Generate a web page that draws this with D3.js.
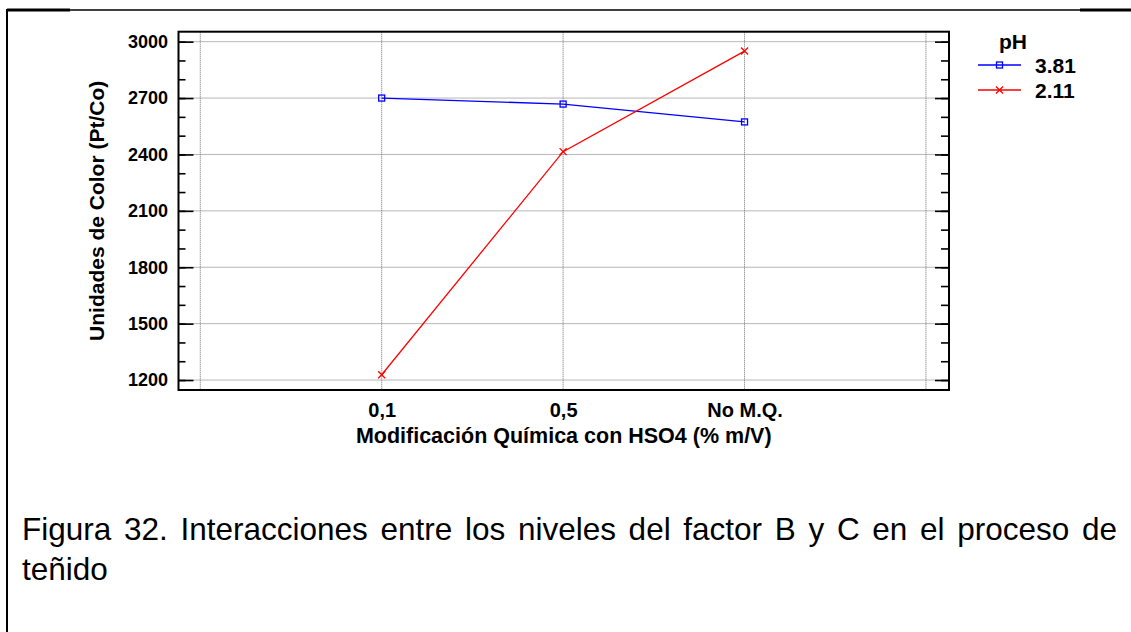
<!DOCTYPE html>
<html>
<head>
<meta charset="utf-8">
<script src="https://cdn.jsdelivr.net/npm/d3@7"></script>
<style>
  html, body { margin: 0; padding: 0; background: #fff; }
  svg { display: block; font-family: "Liberation Sans", Arial, sans-serif; }
</style>
</head>
<body>
<svg id="fig" width="1131" height="632"></svg>
<script>
// Factor levels (x) and mean colour units per pH level
const categories = ["0,1", "0,5", "No M.Q."];
const seriesNames = ["3.81", "2.11"];
const ph381 = [2700, 2668, 2573];
const ph211 = [1228, 2415, 2950];
const yTicks = [1200, 1500, 1800, 2100, 2400, 2700, 3000];
const captionLine1 = "Figura 32. Interacciones entre los niveles del factor B y C en el proceso de";
const captionLine2 = "teñido";

const svg = d3.select("#fig");

// Page frame lines
svg.append("line").attr("x1", 7).attr("x2", 1131).attr("y1", 10).attr("y2", 10)
  .attr("stroke", "#000").attr("stroke-width", 1.5);
svg.append("line").attr("x1", 7).attr("x2", 70).attr("y1", 10).attr("y2", 10)
  .attr("stroke", "#000").attr("stroke-width", 3);
svg.append("line").attr("x1", 1080).attr("x2", 1131).attr("y1", 10).attr("y2", 10)
  .attr("stroke", "#000").attr("stroke-width", 3);
svg.append("line").attr("x1", 7).attr("x2", 7).attr("y1", 9).attr("y2", 632)
  .attr("stroke", "#000").attr("stroke-width", 2);

// Plot region
const L = 178.5, R = 949, T = 31.7, B = 390;
const x = d3.scaleLinear().domain([-1.12, 3.127]).range([L, R]);
const y = d3.scaleLinear().domain([1147, 3053]).range([B, T]);

const g = svg.append("g");

// Grid
const grid = g.append("g").attr("stroke", "#6e6e6e").attr("stroke-width", 1)
  .attr("stroke-dasharray", "1,1");
grid.selectAll("line.h").data(yTicks).join("line").attr("class", "h")
  .attr("x1", L).attr("x2", R).attr("y1", d => y(d)).attr("y2", d => y(d));
grid.selectAll("line.v").data([-1, 0, 1, 2, 3]).join("line").attr("class", "v")
  .attr("y1", T).attr("y2", B).attr("x1", d => x(d)).attr("x2", d => x(d));

// Y axes with inward ticks on both sides
const minor = d3.range(1200, 3001, 100);
const yLeft = d3.axisRight(y).tickValues(minor).tickSize(7).tickFormat("");
const yLeftMajor = d3.axisRight(y).tickValues(yTicks).tickSize(15).tickFormat("");
const yRight = d3.axisLeft(y).tickValues(minor).tickSize(8).tickFormat("");
const yRightMajor = d3.axisLeft(y).tickValues(yTicks).tickSize(14).tickFormat("");
[[yLeft, L], [yLeftMajor, L], [yRight, R], [yRightMajor, R]].forEach(([ax, px]) => {
  const a = g.append("g").attr("transform", `translate(${px},0)`).call(ax);
  a.select(".domain").remove();
  a.selectAll(".tick line").attr("stroke", "#000").attr("stroke-width", 1.6);
});

// Y tick labels
g.append("g").selectAll("text").data(yTicks).join("text")
  .attr("x", 168).attr("y", d => y(d)).attr("dy", "0.35em")
  .attr("text-anchor", "end").attr("font-weight", "bold").attr("font-size", 18)
  .text(d => d);

// X tick labels
const xAxis = d3.axisBottom(x).tickValues([0, 1, 2]).tickSize(0)
  .tickFormat(i => categories[i]);
const xa = g.append("g").attr("transform", `translate(0,${B})`).call(xAxis);
xa.select(".domain").remove();
xa.selectAll("text").attr("fill", "#000").attr("font-size", 20).attr("font-weight", "bold")
  .attr("font-family", "Liberation Sans, Arial, sans-serif").attr("dy", null).attr("y", 27);

// Plot frame
g.append("rect").attr("x", L).attr("y", T).attr("width", R - L).attr("height", B - T)
  .attr("fill", "none").attr("stroke", "#000").attr("stroke-width", 2);

// Axis titles
g.append("text").attr("x", (L + R) / 2).attr("y", 443).attr("text-anchor", "middle")
  .attr("font-weight", "bold").attr("font-size", 21.5)
  .text("Modificación Química con HSO4 (% m/V)");
g.append("text").attr("transform", `translate(104,${(T + B) / 2}) rotate(-90)`)
  .attr("text-anchor", "middle").attr("font-weight", "bold").attr("font-size", 21)
  .text("Unidades de Color (Pt/Co)");

// Series
const series = [
  { name: seriesNames[0], values: ph381, color: "#0000ff", marker: "square" },
  { name: seriesNames[1], values: ph211, color: "#ff0000", marker: "cross" }
];
const line = d3.line().x((d, i) => x(i)).y(d => y(d));

function drawMarker(sel, type, color) {
  if (type === "square") {
    sel.append("rect").attr("x", -3).attr("y", -3).attr("width", 6).attr("height", 6)
      .attr("fill", "none").attr("stroke", color).attr("stroke-width", 1.3);
  } else {
    sel.append("path").attr("d", "M-3.5,-3.5L3.5,3.5M-3.5,3.5L3.5,-3.5")
      .attr("stroke", color).attr("stroke-width", 1.3);
  }
}

series.forEach(s => {
  g.append("path").datum(s.values).attr("d", line).attr("fill", "none")
    .attr("stroke", s.color).attr("stroke-width", 1.3);
  g.append("g").selectAll("g").data(s.values).join("g")
    .attr("transform", (d, i) => `translate(${x(i)},${y(d)})`)
    .each(function () { drawMarker(d3.select(this), s.marker, s.color); });
});

// Legend
const lg = svg.append("g");
lg.append("text").attr("x", 1013).attr("y", 49).attr("text-anchor", "middle")
  .attr("font-weight", "bold").attr("font-size", 21).text("pH");
series.forEach((s, i) => {
  const ly = 65 + i * 25;
  lg.append("line").attr("x1", 978).attr("x2", 1021).attr("y1", ly).attr("y2", ly)
    .attr("stroke", s.color).attr("stroke-width", 1.3);
  const m = lg.append("g").attr("transform", `translate(999.5,${ly})`);
  drawMarker(m, s.marker, s.color);
  lg.append("text").attr("x", 1035).attr("y", ly).attr("dy", "0.36em")
    .attr("font-weight", "bold").attr("font-size", 21).text(s.name);
});

// Caption, first line justified between the margins
const capSize = 31.5, capL = 22, capR = 1117;
const words = captionLine1.split(" ");
const cap = svg.append("g").attr("font-size", capSize).attr("fill", "#000");
const nodes = words.map(w => cap.append("text").attr("y", 540).text(w));
const widths = nodes.map(n => n.node().getComputedTextLength());
const gap = (capR - capL - d3.sum(widths)) / (words.length - 1);
let cx = capL;
nodes.forEach((n, i) => { n.attr("x", cx); cx += widths[i] + gap; });
cap.append("text").attr("x", capL).attr("y", 580).text(captionLine2);
</script>
</body>
</html>
